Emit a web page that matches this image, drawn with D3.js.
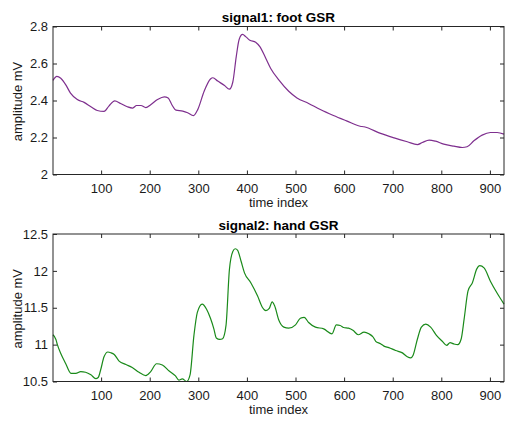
<!DOCTYPE html>
<html>
<head>
<meta charset="utf-8">
<script src="https://cdn.jsdelivr.net/npm/d3@7"></script>
<style>
body { margin: 0; background: #fff; }
text { font-family: "Liberation Sans", Arial, sans-serif; }
</style>
</head>
<body>
<script>
// signal1: foot GSR, [time index, amplitude]
var footIdx = [1, 9, 17, 27, 37, 51, 65, 79, 92, 106, 116, 128, 140, 154, 165, 173, 182, 192, 202, 216, 230, 238, 245, 254, 268, 278, 290, 299, 312, 325, 330, 340, 354, 364, 371, 378, 384, 391, 398, 406, 418, 427, 439, 449, 466, 486, 503, 527, 551, 578, 605, 633, 641, 675, 703, 730, 751, 761, 775, 788, 805, 826, 843, 853, 867, 884, 901, 915, 929];
var footVal = [2.509, 2.53, 2.52, 2.486, 2.44, 2.405, 2.39, 2.366, 2.346, 2.341, 2.37, 2.398, 2.384, 2.366, 2.359, 2.373, 2.373, 2.362, 2.377, 2.405, 2.42, 2.413, 2.38, 2.348, 2.343, 2.334, 2.318, 2.352, 2.45, 2.516, 2.523, 2.505, 2.481, 2.461, 2.50, 2.636, 2.73, 2.757, 2.744, 2.726, 2.715, 2.69, 2.627, 2.573, 2.51, 2.45, 2.414, 2.384, 2.351, 2.319, 2.29, 2.261, 2.258, 2.222, 2.198, 2.177, 2.162, 2.173, 2.186, 2.18, 2.164, 2.153, 2.146, 2.15, 2.182, 2.213, 2.227, 2.227, 2.218];

// signal2: hand GSR
var handIdx = [1, 7, 10, 17, 27, 38, 48, 58, 68, 79, 89, 94, 99, 106, 114, 120, 127, 137, 151, 164, 178, 192, 202, 214, 226, 240, 253, 260, 267, 276, 283, 291, 298, 308, 317, 325, 332, 337, 344, 350, 357, 364, 371, 376, 381, 388, 395, 408, 422, 432, 439, 446, 452, 457, 466, 476, 486, 500, 510, 518, 527, 541, 558, 575, 584, 592, 599, 609, 619, 629, 641, 651, 660, 665, 675, 682, 692, 706, 720, 730, 737, 742, 751, 759, 768, 778, 790, 802, 811, 818, 826, 834, 841, 847, 855, 864, 873, 879, 888, 901, 915, 929];
var handVal = [11.134, 11.07, 11.0, 10.88, 10.745, 10.61, 10.61, 10.634, 10.625, 10.59, 10.54, 10.554, 10.656, 10.835, 10.9, 10.89, 10.866, 10.777, 10.73, 10.69, 10.625, 10.58, 10.634, 10.741, 10.723, 10.643, 10.576, 10.518, 10.536, 10.5, 10.59, 11.125, 11.437, 11.55, 11.48, 11.357, 11.214, 11.09, 11.07, 11.08, 11.26, 12.018, 12.263, 12.3, 12.277, 12.13, 11.973, 11.84, 11.66, 11.504, 11.46, 11.49, 11.58, 11.527, 11.326, 11.237, 11.223, 11.268, 11.357, 11.37, 11.30, 11.237, 11.214, 11.147, 11.268, 11.26, 11.232, 11.223, 11.19, 11.134, 11.17, 11.147, 11.1, 11.045, 11.013, 10.98, 10.96, 10.92, 10.888, 10.835, 10.82, 10.857, 11.08, 11.237, 11.277, 11.237, 11.125, 11.045, 10.99, 11.027, 11.009, 11.0, 11.08, 11.348, 11.728, 11.84, 12.027, 12.07, 12.04, 11.86, 11.696, 11.55];

var xTicks = [100, 200, 300, 400, 500, 600, 700, 800, 900];
var footTicks = [2, 2.2, 2.4, 2.6, 2.8];
var handTicks = [10.5, 11, 11.5, 12, 12.5];

var svg = d3.select("body").append("svg")
	.attr("width", 509)
	.attr("height", 424);

function drawPanel(top, bottom, idx, vals, yDomain, yTicks, yFmt, color, title) {
	var left = 53, right = 504;
	var x = d3.scaleLinear().domain([1, 929]).range([left, right]);
	var y = d3.scaleLinear().domain(yDomain).range([bottom, top]);
	var g = svg.append("g");

	var pts = idx.map(function(d, i) { return [d, vals[i]]; });
	var line = d3.line()
		.x(function(d) { return x(d[0]); })
		.y(function(d) { return y(d[1]); })
		.curve(d3.curveMonotoneX);

	g.append("path")
		.attr("d", line(pts))
		.attr("fill", "none")
		.attr("stroke", color)
		.attr("stroke-width", 1.2);

	// axes, ticks inward like matlab
	var xb = g.append("g").attr("transform", "translate(0," + bottom + ")")
		.call(d3.axisBottom(x).tickValues(xTicks).tickSizeInner(-4).tickSizeOuter(0).tickPadding(9));
	var xt = g.append("g").attr("transform", "translate(0," + top + ")")
		.call(d3.axisTop(x).tickValues(xTicks).tickSizeInner(-4).tickSizeOuter(0).tickFormat(""));
	var yl = g.append("g").attr("transform", "translate(" + left + ",0)")
		.call(d3.axisLeft(y).tickValues(yTicks).tickSizeInner(-4).tickSizeOuter(0).tickPadding(5).tickFormat(yFmt));
	var yr = g.append("g").attr("transform", "translate(" + right + ",0)")
		.call(d3.axisRight(y).tickValues(yTicks).tickSizeInner(-4).tickSizeOuter(0).tickFormat(""));

	[xb, xt, yl, yr].forEach(function(a) {
		a.selectAll("path").remove();
		a.selectAll("line").attr("stroke", "#262626");
		a.selectAll("text").attr("font-size", "13px").attr("fill", "#1a1a1a")
			.style("font-family", "'Liberation Sans', Arial, sans-serif");
	});

	g.append("rect")
		.attr("x", left).attr("y", top)
		.attr("width", right - left).attr("height", bottom - top)
		.attr("fill", "none")
		.attr("stroke", "#262626")
		.attr("stroke-width", 1);

	g.append("text")
		.attr("x", (left + right) / 2)
		.attr("y", top - 4.5)
		.attr("text-anchor", "middle")
		.attr("font-size", "13.5px")
		.attr("font-weight", "bold")
		.text(title);

	g.append("text")
		.attr("x", (left + right) / 2)
		.attr("y", bottom + 32)
		.attr("text-anchor", "middle")
		.attr("font-size", "13px")
		.attr("fill", "#1a1a1a")
		.text("time index");

	g.append("text")
		.attr("transform", "translate(22," + ((top + bottom) / 2 + 1) + ") rotate(-90)")
		.attr("text-anchor", "middle")
		.attr("font-size", "13px")
		.attr("fill", "#1a1a1a")
		.text("amplitude mV");
}

drawPanel(26.5, 174.5, footIdx, footVal, [2, 2.8], footTicks, function(d) { return d === 2 ? "2" : d3.format(".1f")(d); }, "#7e2f8e", "signal1: foot GSR");
drawPanel(234, 381.5, handIdx, handVal, [10.5, 12.5], handTicks, function(d) { return String(d); }, "#1a8a1a", "signal2: hand GSR");
</script>
</body>
</html>
